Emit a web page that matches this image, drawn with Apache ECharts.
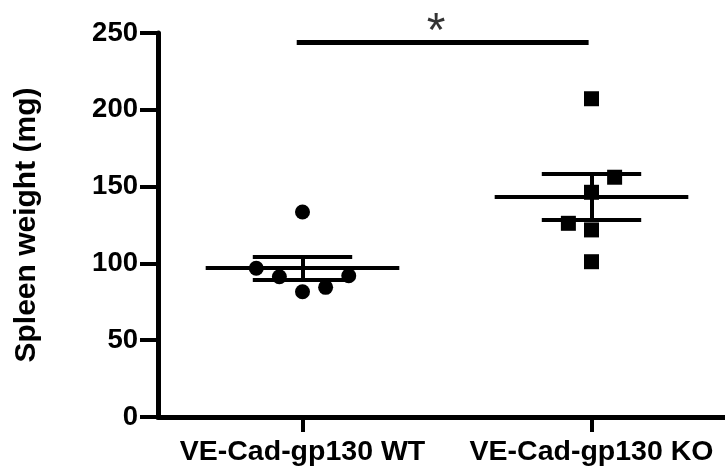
<!DOCTYPE html>
<html>
<head>
<meta charset="utf-8">
<script src="https://cdn.jsdelivr.net/npm/echarts@6/dist/echarts.min.js"></script>
<style>
  html, body { margin: 0; padding: 0; background: #fff; }
  #chart { width: 725px; height: 474px; }
</style>
</head>
<body>
<div id="chart"></div>
<script>
// groups on the x axis
const groups = ['VE-Cad-gp130 WT', 'VE-Cad-gp130 KO'];

// individual spleen weights (mg)
const wtValues = [96.8, 91.3, 133.5, 81.5, 84.4, 92.0];
const koValues = [126.1, 207.2, 146.3, 121.8, 101.1, 156.1];
// horizontal scatter of the points around the group centre (in category units)
const wtJitter = [-0.16, -0.08, 0, 0, 0.08, 0.16];
const koJitter = [-0.08, 0, 0, 0, 0, 0.08];

// mean +/- SEM per group, as drawn
const groupMeans = [97.0, 143.1];
const groupSems = [7.4, 15.0];

// significance bar between the groups
const sigValue = 244;
const sigLabel = '*';

const yTicks = { min: 0, max: 250, interval: 50 };

const font = '"Liberation Sans", Arial, Helvetica, sans-serif';

const chart = echarts.init(document.getElementById('chart'));

function points(values, jitter, groupIdx) {
  return values.map((v, i) => [groupIdx + 1 + jitter[i], v]);
}

// mean line, SEM caps and vertical SEM bar for each group
const summarySegments = [];
groupMeans.forEach((m, i) => {
  const c = i + 1;
  const s = groupSems[i];
  summarySegments.push({ coords: [[c - 0.335, m], [c + 0.335, m]] });
  summarySegments.push({ coords: [[c - 0.172, m + s], [c + 0.172, m + s]] });
  summarySegments.push({ coords: [[c - 0.172, m - s], [c + 0.172, m - s]] });
  summarySegments.push({ coords: [[c, m - s], [c, m + s]] });
});

const option = {
  backgroundColor: '#fff',
  animation: false,
  // plot runs past the right edge of the picture, like the original
  grid: { left: 158, width: 578, top: 33, bottom: 57, outerBoundsMode: 'none' },
  xAxis: [
    {
      type: 'category',
      data: groups,
      axisLine: { lineStyle: { color: '#000', width: 5 } },
      axisTick: {
        show: true, interval: 0, alignWithLabel: true, length: 15,
        lineStyle: { color: '#000', width: 4 }
      },
      axisLabel: {
        interval: 0, hideOverlap: false,
        color: '#000', fontFamily: font, fontWeight: 'bold', fontSize: 28.5, margin: 21
      }
    },
    { type: 'value', min: 0.5, max: 2.5, show: false }
  ],
  yAxis: {
    type: 'value',
    min: yTicks.min,
    max: yTicks.max,
    interval: yTicks.interval,
    name: 'Spleen weight (mg)',
    nameLocation: 'middle',
    nameGap: 116,
    nameTextStyle: { color: '#000', fontFamily: font, fontWeight: 'bold', fontSize: 30 },
    splitLine: { show: false },
    axisLine: { show: true, lineStyle: { color: '#000', width: 5 } },
    axisTick: { show: true, length: 18, lineStyle: { color: '#000', width: 4 } },
    axisLabel: { color: '#000', fontFamily: font, fontWeight: 'bold', fontSize: 27.5, margin: 20 }
  },
  series: [
    {
      type: 'lines',
      coordinateSystem: 'cartesian2d',
      xAxisIndex: 1,
      polyline: false,
      lineStyle: { color: '#000', width: 4, opacity: 1 },
      data: summarySegments,
      z: 3
    },
    {
      type: 'lines',
      coordinateSystem: 'cartesian2d',
      xAxisIndex: 1,
      lineStyle: { color: '#000', width: 5, opacity: 1 },
      data: [{ coords: [[0.98, sigValue], [1.99, sigValue]] }],
      z: 3
    },
    {
      type: 'scatter',
      xAxisIndex: 1,
      symbol: 'circle',
      symbolSize: 15,
      itemStyle: { color: '#000', opacity: 1 },
      data: points(wtValues, wtJitter, 0),
      z: 4
    },
    {
      type: 'scatter',
      xAxisIndex: 1,
      symbol: 'rect',
      symbolSize: 15,
      itemStyle: { color: '#000', opacity: 1 },
      data: points(koValues, koJitter, 1),
      z: 4
    },
    {
      type: 'scatter',
      xAxisIndex: 1,
      symbolSize: 0,
      clip: false,
      silent: true,
      label: {
        show: true,
        position: 'inside',
        formatter: sigLabel,
        color: '#000',
        fontFamily: font,
        fontSize: 48
      },
      data: [[1.462, 250]],
      z: 5
    }
  ]
};

chart.setOption(option);
</script>
</body>
</html>
